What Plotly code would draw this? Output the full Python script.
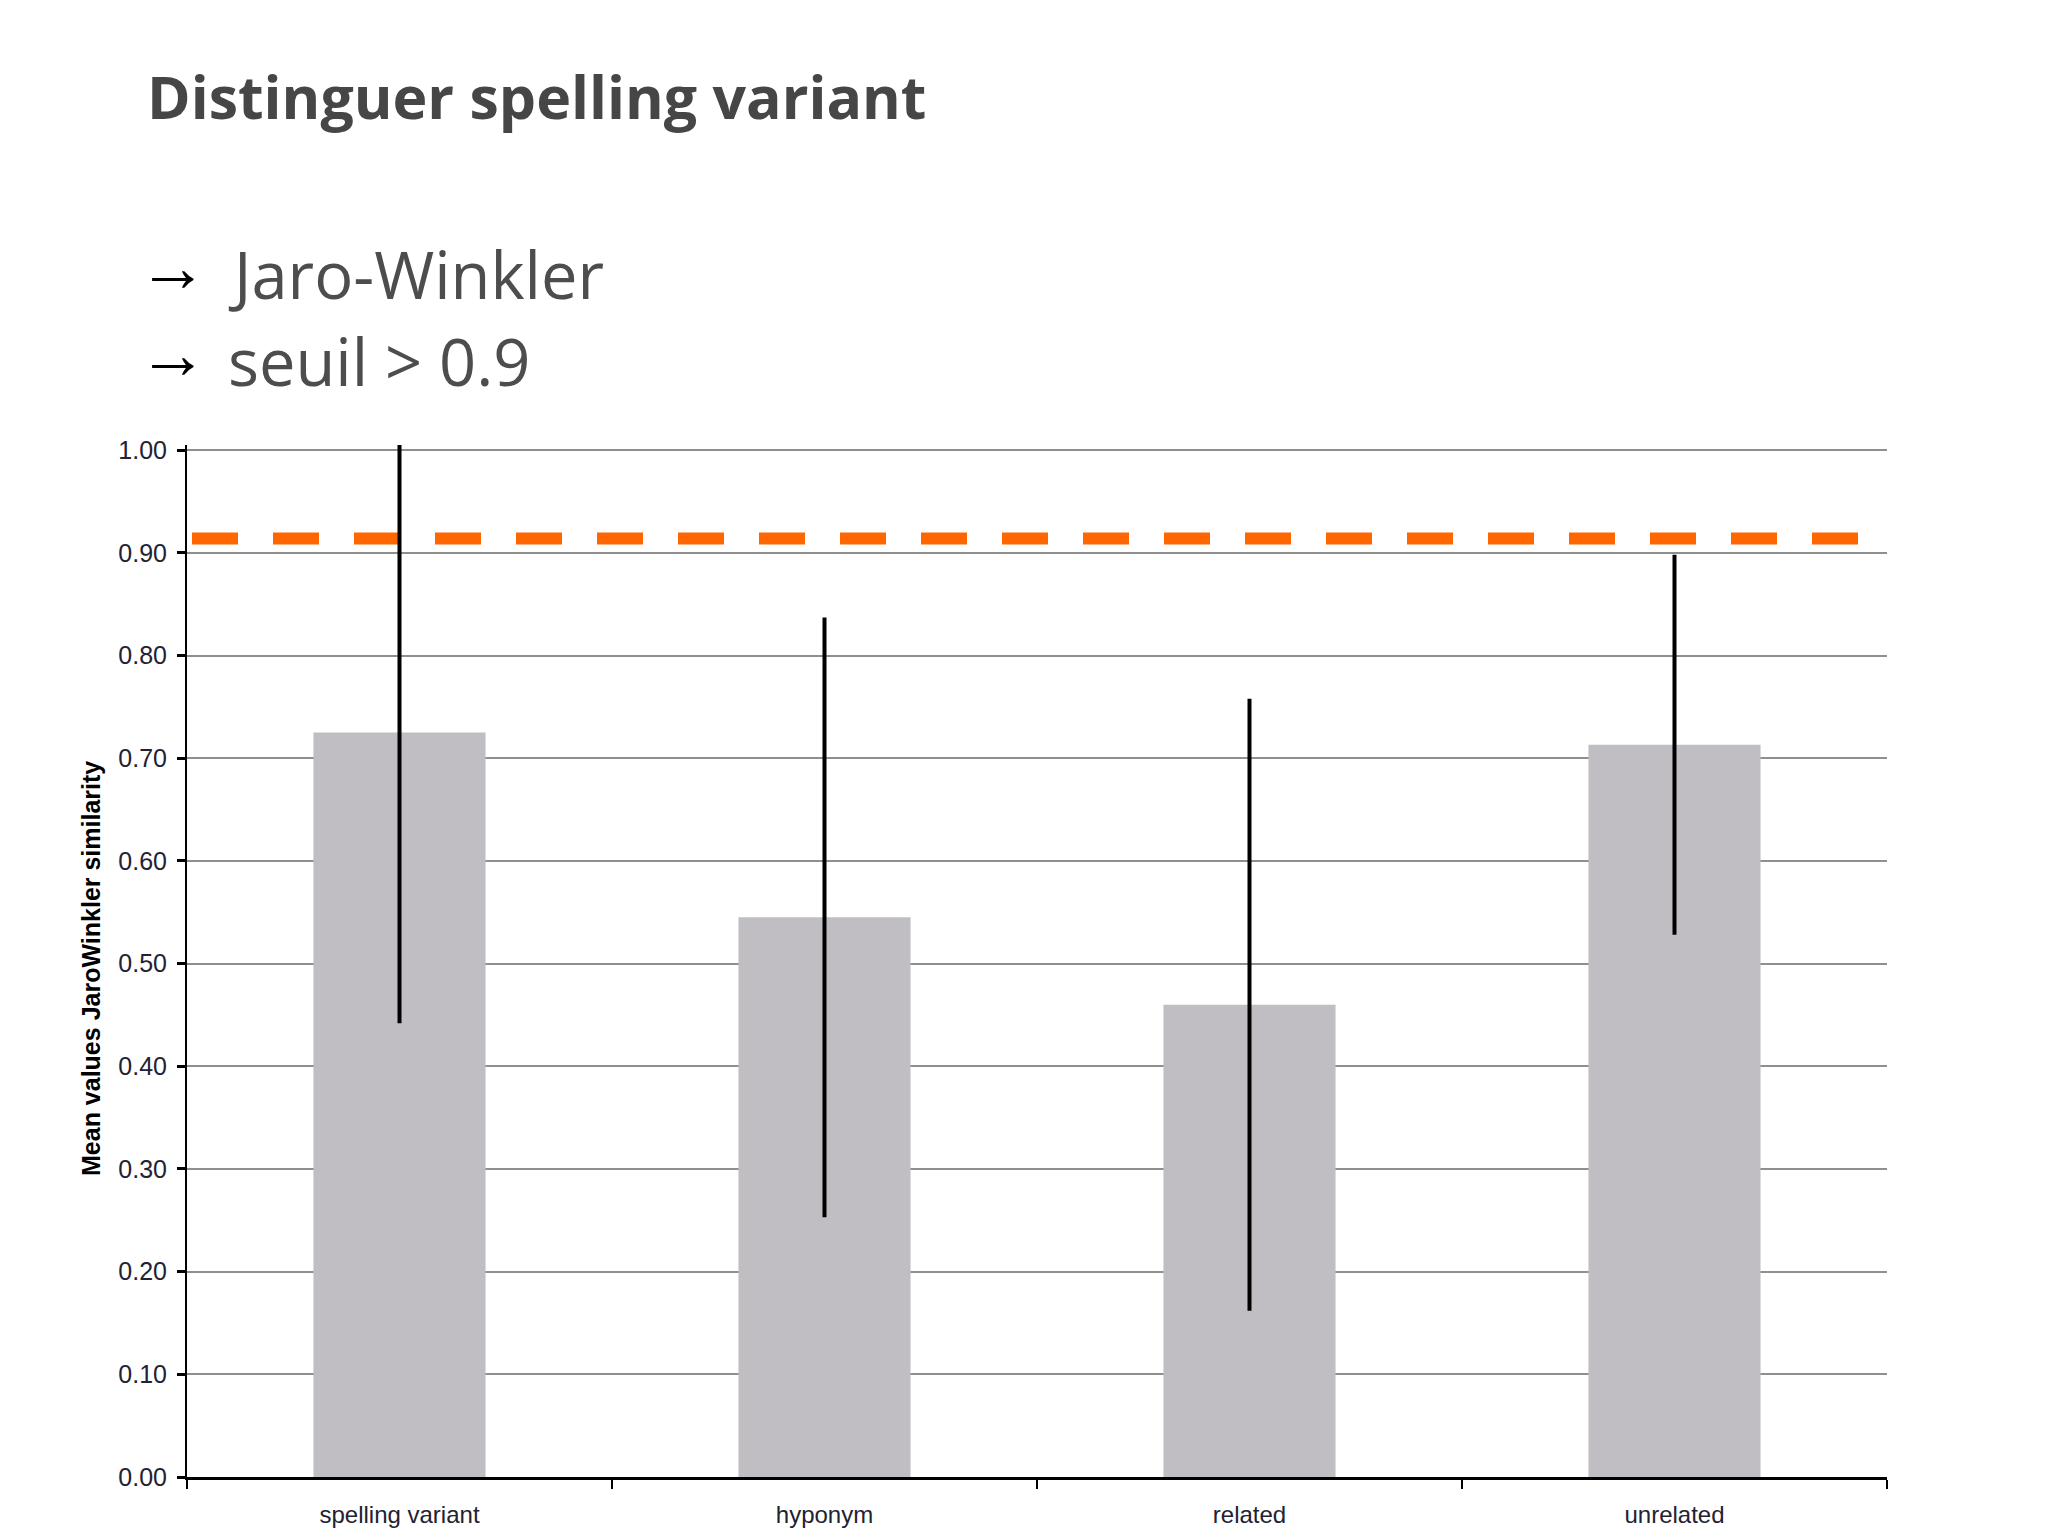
import plotly.graph_objects as go

# chart data
categories = ["spelling variant", "hyponym", "related", "unrelated"]
mean_values = [0.725, 0.545, 0.46, 0.713]
std_values = [0.283, 0.292, 0.298, 0.185]
threshold = 0.914
y_ticks = [0.0, 0.1, 0.2, 0.3, 0.4, 0.5, 0.6, 0.7, 0.8, 0.9, 1.0]

slide_title = "Distinguer spelling variant"
bullets = ["Jaro-Winkler", "seuil > 0.9"]
y_title = "Mean values JaroWinkler similarity"

W, H = 2048, 1535
OFF = 8  # page body margin
# plot area in page pixels
PL, PR, PB = 187 - OFF, 1887 - OFF, 1477 - OFF
PT = round(PB - 1027 * 1.005)


def px(x):
    """page pixel x -> paper x"""
    return (x - OFF - PL) / (PR - PL)


def py(y):
    """page pixel y -> paper y"""
    return (PB - (y - OFF)) / (PB - PT)


fig = go.Figure(
    data=[
        go.Bar(
            x=categories,
            y=mean_values,
            marker=dict(color="#c0bec2", line=dict(width=0)),
            error_y=dict(type="data", array=std_values, visible=True,
                         color="black", thickness=4, width=0),
            showlegend=False,
        )
    ]
)

# threshold line
fig.add_shape(
    type="line", xref="paper", yref="y",
    x0=px(192), x1=px(1866), y0=threshold, y1=threshold,
    line=dict(color="#ff6600", width=12, dash="46px,35px"),
    layer="between",
)

# slide title and bullets
fig.add_annotation(
    text="<b>%s</b>" % slide_title, xref="paper", yref="paper",
    x=px(145), y=py(96), xanchor="left", yanchor="middle", showarrow=False,
    font=dict(family="Open Sans", size=59, color="#464646"),
)
for i, b in enumerate(bullets):
    base = 296 + i * 87
    fig.add_annotation(
        text="\u2192", xref="paper", yref="paper",
        x=px(136), y=py(base - 29), xanchor="left", yanchor="middle", showarrow=False,
        font=dict(family="Liberation Sans", size=70, color="black"),
    )
    fig.add_annotation(
        text=b, xref="paper", yref="paper",
        x=px(226), y=py(base - 22), xanchor="left", yanchor="middle", showarrow=False,
        font=dict(family="Open Sans", size=65, color="#4d4d4d"),
    )

# y axis title
fig.add_annotation(
    text="<b>%s</b>" % y_title, xref="paper", yref="paper",
    x=px(91), y=py(969), xanchor="center", yanchor="middle", showarrow=False,
    textangle=-90,
    font=dict(family="Liberation Sans", size=25, color="black"),
)

fig.update_layout(
    width=W, height=H - OFF,
    margin=dict(l=PL, r=W - PR, t=PT, b=H - OFF - PB, autoexpand=False),
    paper_bgcolor="white",
    plot_bgcolor="white",
    bargap=0.595,
    font=dict(family="Liberation Sans", size=24, color="#222233"),
)
fig.update_xaxes(
    showline=True, linecolor="black", linewidth=3,
    ticks="outside", tickson="boundaries", ticklen=9, tickwidth=2, tickcolor="black",
    showgrid=False, tickfont=dict(size=24), ticklabelstandoff=14,
)
fig.update_yaxes(
    range=[0, 1.005], tickvals=y_ticks, tickformat=".2f",
    showline=True, linecolor="black", linewidth=2,
    ticks="outside", ticklen=8, tickwidth=3, tickcolor="black",
    showgrid=True, gridcolor="#8f8f8f", gridwidth=2,
    zeroline=False, tickfont=dict(size=25), ticklabelstandoff=5,
)

fig.write_html("out.html")
